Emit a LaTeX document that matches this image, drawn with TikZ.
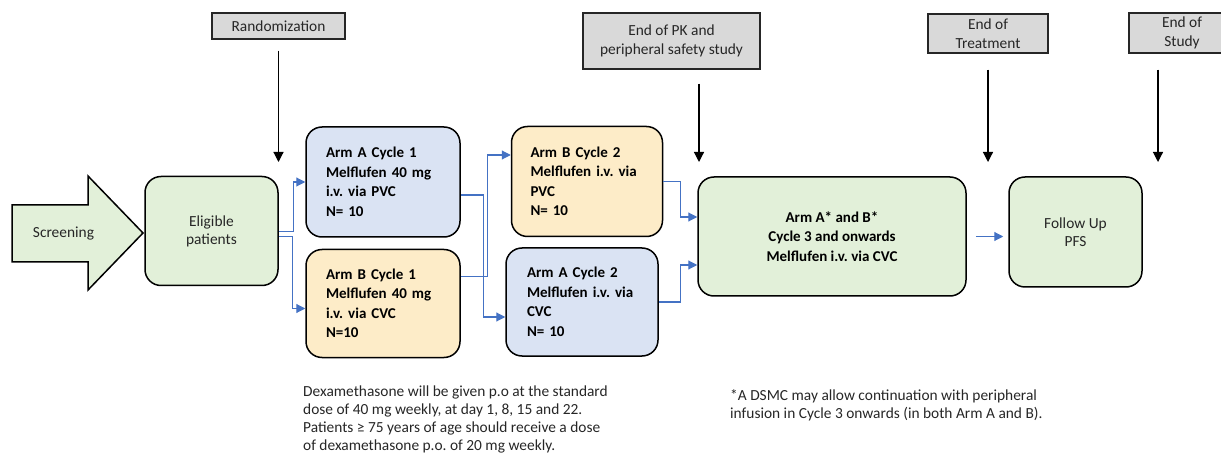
\documentclass[tikz,border=0pt]{standalone}
\usepackage{fontspec}
\setmainfont{Carlito}
\usepackage{tikz}
\usetikzlibrary{arrows.meta, positioning}
\definecolor{boxgreen}{RGB}{226, 240, 217}
\definecolor{boxblue}{RGB}{218, 227, 243}
\definecolor{boxgold}{RGB}{253, 236, 200}
\definecolor{tagrey}{RGB}{217, 217, 217}
\definecolor{linkblue}{RGB}{68, 114, 196}
\definecolor{txtgrey}{RGB}{38, 38, 38}
\frenchspacing

\begin{document}
\begin{tikzpicture}[x=1pt, y=-1pt,
  txt/.style={font=\fontsize{15.4}{18}\selectfont, text=txtgrey},
  bold/.style={font=\fontsize{15}{19.5}\selectfont\bfseries, text=black},
  box/.style={draw=black, line width=1.5pt, rounded corners=16pt, align=center, inner sep=0pt},
  grnbox/.style={box, fill=boxgreen},
  arm/.style={box, bold, align=left, text width=114pt, inner xsep=20pt, minimum height=110pt},
  ms/.style={draw=black!85, line width=1.5pt, fill=tagrey, align=center, inner sep=0pt,
    font=\fontsize{15.4}{19.5}\selectfont, text=txtgrey},
  flow/.style={linkblue, line width=1.1pt, -{Triangle[length=9pt, width=9pt]}},
  drop/.style={black, line width=1.2pt, -{Triangle[length=10pt, width=10pt]}}]

  \useasboundingbox (0,0) rectangle (1221,454);

  % screening arrow
  \filldraw[fill=boxgreen, draw=black, line width=1.5pt] (12,205) -- (88,205) -- (88,176) -- (143,233)
    -- (88,290) -- (88,262) -- (12,262) -- cycle;
  \node[txt] (screen) at (63.5,234) {Screening};

  \node[grnbox, txt, minimum width=133pt, minimum height=109pt] (elig) at (211.5,231) {Eligible\\patients};

  \node[arm, fill=boxblue] (armA1) at (383,182) {Arm A Cycle 1\\Melflufen 40 mg\\i.v. via PVC\\N= 10};
  \node[arm, fill=boxgold, minimum height=108pt, below=11pt of armA1] (armB1) {Arm B Cycle 1\\Melflufen 40 mg\\i.v. via CVC\\N=10};
  \node[arm, fill=boxgold, text width=113pt, inner xsep=19pt] (armB2) at (587,181.5) {Arm B Cycle 2\\Melflufen i.v. via\\PVC\\N= 10};
  \node[arm, fill=boxblue, text width=110pt, inner xsep=21pt, minimum height=108pt] (armA2) at (582,302) {Arm A Cycle 2\\Melflufen i.v. via\\CVC\\N= 10};

  \node[grnbox, bold, minimum width=268pt, minimum height=119pt] (cont) at (832,236.5) {Arm A* and B*\\Cycle 3 and onwards\\Melflufen i.v. via CVC};
  \node[grnbox, txt, minimum width=133pt, minimum height=110pt] (follow) at (1075.5,232) {Follow Up\\PFS};

  % milestones
  \node[ms, minimum width=133pt, minimum height=26pt] (rand) at (278.5,26) {Randomization};
  \node[ms, minimum width=177pt, minimum height=56pt] (endpk) at (671.5,41) {End of PK and\\peripheral safety study};
  \node[ms, minimum width=120pt, minimum height=39pt] (endtrt) at (988,33.5) {End of\\Treatment};
  \node[ms, minimum width=106pt, minimum height=40pt] (endstudy) at (1182,33) {End of\\Study};

  \coordinate (randtip) at (278.5,162);
  \coordinate (pktip) at (699,162);
  \coordinate (trttip) at (988,162);
  \coordinate (studytip) at (1158,162);

  \draw[drop] ([yshift=-11pt]rand.south) -- (randtip);
  \draw[drop] ([yshift=-14pt]endpk.south -| pktip) -- (pktip);
  \draw[drop] ([yshift=-16pt]endtrt.south) -- (trttip);
  \draw[drop] ([yshift=-16pt]endstudy.south -| studytip) -- (studytip);

  % blue connectors
  \draw[flow] ([yshift=-0.5pt]elig.east) -- ++(15,0) |- (armA1.west);
  \draw[flow] ([yshift=-5.5pt]elig.east) -- ++(14,0) |- ([yshift=-5pt]armB1.west);
  \draw[flow] ([yshift=-13pt]armA1.east) -- ++(23,0) |- ([yshift=-15pt]armA2.west);
  \draw[flow] ([yshift=27pt]armB1.east) -- ++(27,0) |- ([yshift=26.5pt]armB2.west);
  \draw[flow] (armB2.east) -- ++(17.5,0) |- ([yshift=19.5pt]cont.west);
  \draw[flow] (armA2.east) -- ++(22,0) |- ([yshift=-28.5pt]cont.west);
  \draw[flow, shorten <=9pt, shorten >=5pt] (cont.east) -- (cont.east -| follow.west);

  % notes
  \node[txt, align=left, anchor=north west, inner sep=0pt] (dexnote) at (303,386) {Dexamethasone will be given p.o at the standard\\dose of 40 mg weekly, at day 1, 8, 15 and 22.\\Patients ≥ 75 years of age should receive a dose\\of dexamethasone p.o. of 20 mg weekly.};
  \node[txt, align=left, anchor=north west, inner sep=0pt] (dsmcnote) at (730,389) {*A DSMC may allow continuation with peripheral\\infusion in Cycle 3 onwards (in both Arm A and B).};
\end{tikzpicture}
\end{document}
